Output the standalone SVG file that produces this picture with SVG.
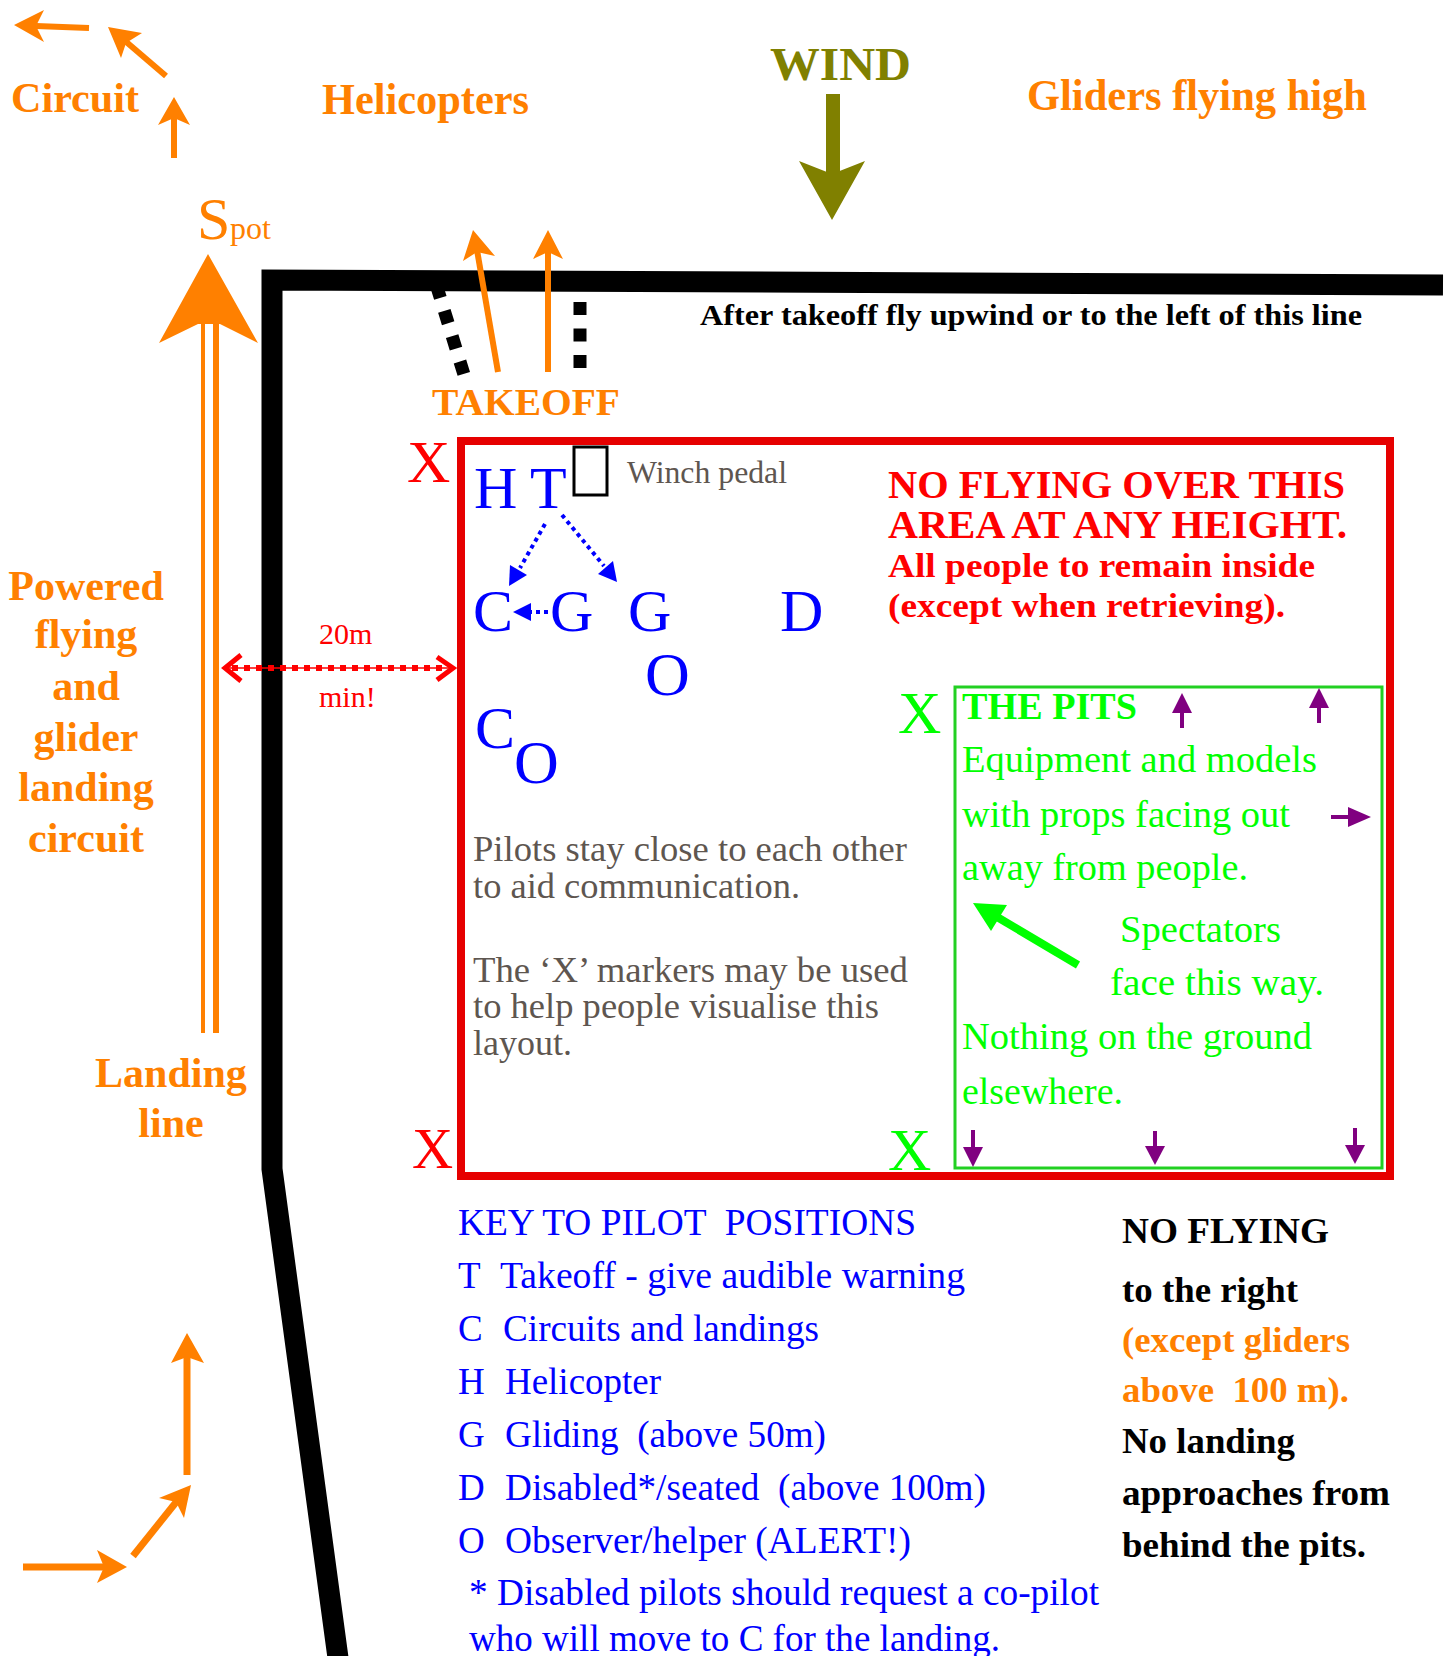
<svg xmlns="http://www.w3.org/2000/svg" width="1451" height="1656" viewBox="0 0 1451 1656">
<style>
text{font-family:"Liberation Serif","Times New Roman",serif;white-space:pre}
.b{font-weight:bold}
.or{fill:#ff8000}
.ol{fill:#808000}
.rd{fill:#ff0000}
.bl{fill:#0000ff}
.gy{fill:#5e5650}
.gr{fill:#00ff00}
.bk{fill:#000}
.pu{fill:#800080}
.osh{stroke:#ff8000;fill:none}
.psh{stroke:#800080;stroke-width:4;fill:none}
.bdot{stroke:#0000ff;stroke-width:4;stroke-dasharray:4 4;fill:none}
</style>
<rect width="1451" height="1656" fill="#fff"/>

<g id="frame">
<path d="M1443,285 L272,280 L272,1169 L341,1680" fill="none" stroke="#000" stroke-width="21" stroke-linejoin="miter"/>
<line x1="436.5" y1="285.5" x2="466" y2="381" stroke="#000" stroke-width="13" stroke-dasharray="13 13.5"/>
<line x1="580" y1="302" x2="580" y2="369" stroke="#000" stroke-width="13" stroke-dasharray="13 13.5"/>
</g>

<g id="field">
<rect x="461" y="441" width="929" height="735" fill="none" stroke="#e60000" stroke-width="8"/>
<rect x="955" y="687" width="427" height="481" fill="none" stroke="#22d022" stroke-width="3"/>
<rect x="574" y="447" width="33" height="48" fill="none" stroke="#000" stroke-width="3"/>
</g>

<g id="connectors">
<!-- circuit arrows top-left -->
<line x1="89" y1="28" x2="36" y2="26" class="osh" stroke-width="6"/>
<polygon points="14,25 44,10 36,26 44,42" class="or"/>
<line x1="166" y1="76" x2="124" y2="40" class="osh" stroke-width="6"/>
<polygon points="108,27 142,33 126,43 121,58" class="or"/>
<line x1="174" y1="158" x2="174" y2="116" class="osh" stroke-width="6"/>
<polygon points="174,97 190,125 174,118 158,125" class="or"/>
<!-- spot arrow -->
<line x1="203" y1="318" x2="203" y2="1033" class="osh" stroke-width="4"/>
<line x1="216" y1="318" x2="216" y2="1033" class="osh" stroke-width="6"/>
<polygon points="208,254 258,343 220,324 198,324 159,343" class="or"/>
<!-- helicopter arrows -->
<line x1="498" y1="372" x2="477" y2="250" class="osh" stroke-width="6"/>
<polygon points="473,230 495,256 477,252 463,261" class="or"/>
<line x1="548" y1="372" x2="548" y2="250" class="osh" stroke-width="6"/>
<polygon points="548,230 563,259 548,252 533,259" class="or"/>
<!-- wind -->
<rect x="826" y="94" width="14" height="82" class="ol"/>
<polygon points="799,161 832,174 865,161 832,220" class="ol"/>
<!-- bottom-left arrows -->
<line x1="23" y1="1567" x2="104" y2="1567" class="osh" stroke-width="7"/>
<polygon points="127,1567 97,1550 104,1567 97,1583" class="or"/>
<line x1="133" y1="1556" x2="177" y2="1501" class="osh" stroke-width="7"/>
<polygon points="191,1485 184,1518 176,1502 159,1498" class="or"/>
<line x1="187" y1="1475" x2="187" y2="1355" class="osh" stroke-width="7"/>
<polygon points="187,1333 204,1363 187,1357 171,1363" class="or"/>
<!-- 20m double arrow -->
<line x1="226" y1="668" x2="452" y2="668" stroke="#ff0000" stroke-width="1.5"/>
<line x1="232" y1="668" x2="446" y2="668" stroke="#ff0000" stroke-width="6" stroke-dasharray="6 6"/>
<polyline points="241,655 225,668 241,681" fill="none" stroke="#ff0000" stroke-width="5"/>
<polyline points="437,657 453,668 437,680" fill="none" stroke="#ff0000" stroke-width="5"/>
<!-- blue dotted arrows -->
<line x1="545" y1="524" x2="520" y2="568" class="bdot"/>
<polygon points="509,586 527,575 510,565" class="bl"/>
<line x1="562" y1="515" x2="604" y2="566" class="bdot"/>
<polygon points="617,582 613,561 598,574" class="bl"/>
<line x1="548" y1="612" x2="529" y2="612" class="bdot"/>
<polygon points="513,612 531,603 531,621" class="bl"/>
<!-- spectators arrow -->
<line x1="1078" y1="965" x2="992" y2="914" stroke="#00ff00" stroke-width="8"/>
<polygon points="973,903 1007,905 991,931" class="gr"/>
<!-- purple arrows -->
<line x1="1182" y1="728" x2="1182" y2="710" class="psh"/>
<polygon points="1182,693 1192,713 1172,713" class="pu"/>
<line x1="1319" y1="723" x2="1319" y2="705" class="psh"/>
<polygon points="1319,688 1329,708 1309,708" class="pu"/>
<line x1="1331" y1="817" x2="1350" y2="817" class="psh"/>
<polygon points="1371,817 1348,807 1348,827" class="pu"/>
<line x1="973" y1="1130" x2="973" y2="1150" class="psh"/>
<polygon points="973,1167 963,1147 983,1147" class="pu"/>
<line x1="1155" y1="1131" x2="1155" y2="1149" class="psh"/>
<polygon points="1155,1165 1145,1146 1165,1146" class="pu"/>
<line x1="1355" y1="1128" x2="1355" y2="1148" class="psh"/>
<polygon points="1355,1164 1345,1145 1365,1145" class="pu"/>
</g>

<g id="label-circuit"><text x="11" y="112" font-size="42" class="b or" textLength="128" lengthAdjust="spacingAndGlyphs">Circuit</text></g>
<g id="label-helicopters"><text x="322" y="114" font-size="44" class="b or" textLength="207" lengthAdjust="spacingAndGlyphs">Helicopters</text></g>
<g id="label-wind"><text x="770" y="80" font-size="46" class="b ol" textLength="141" lengthAdjust="spacingAndGlyphs">WIND</text></g>
<g id="label-gliders"><text x="1027" y="110" font-size="44" class="b or" textLength="340" lengthAdjust="spacingAndGlyphs">Gliders flying high</text></g>
<g id="label-spot"><text x="197" y="239" font-size="60" class="or">S</text><text x="230" y="239" font-size="32" class="or">pot</text></g>
<g id="label-after"><text x="700" y="325" font-size="30" class="b bk" textLength="662" lengthAdjust="spacingAndGlyphs">After takeoff fly upwind or to the left of this line</text></g>
<g id="label-takeoff"><text x="432" y="415" font-size="37" class="b or" textLength="188" lengthAdjust="spacingAndGlyphs">TAKEOFF</text></g>

<g id="label-powered" class="b or" font-size="42" text-anchor="middle">
<text x="86" y="600">Powered</text>
<text x="86" y="648">flying</text>
<text x="86" y="700">and</text>
<text x="86" y="751">glider</text>
<text x="86" y="801">landing</text>
<text x="86" y="852">circuit</text>
</g>
<g id="label-landing" class="b or" font-size="42" text-anchor="middle">
<text x="171" y="1087">Landing</text>
<text x="171" y="1137">line</text>
</g>

<g id="label-20m" class="rd" font-size="30">
<text x="319" y="644">20m</text>
<text x="319" y="707">min!</text>
</g>

<g id="markers" font-size="60">
<text x="407" y="482" class="rd">X</text>
<text x="412" y="1168" class="rd" font-size="57">X</text>
<text x="898" y="733" class="gr">X</text>
<text x="888" y="1170" class="gr">X</text>
</g>

<g id="pilots" class="bl" font-size="60">
<text x="474" y="508">H</text>
<text x="530" y="508">T</text>
<text x="473" y="631">C</text>
<text x="550" y="631">G</text>
<text x="628" y="631">G</text>
<text x="780" y="631">D</text>
<text x="645" y="695" font-size="62">O</text>
<text x="475" y="748">C</text>
<text x="514" y="783" font-size="62">O</text>
</g>

<g id="label-winch"><text x="627" y="483" font-size="32" class="gy" textLength="160" lengthAdjust="spacingAndGlyphs">Winch pedal</text></g>

<g id="label-noflying-area" class="b rd">
<text x="888" y="498" font-size="39" textLength="457" lengthAdjust="spacingAndGlyphs">NO FLYING OVER THIS</text>
<text x="888" y="538" font-size="39" textLength="459" lengthAdjust="spacingAndGlyphs">AREA AT ANY HEIGHT.</text>
<text x="888" y="577" font-size="34" textLength="427" lengthAdjust="spacingAndGlyphs">All people to remain inside</text>
<text x="888" y="617" font-size="34" textLength="397" lengthAdjust="spacingAndGlyphs">(except when retrieving).</text>
</g>

<g id="label-pilots-note" class="gy" font-size="36">
<text x="473" y="861" textLength="434" lengthAdjust="spacingAndGlyphs">Pilots stay close to each other</text>
<text x="473" y="898" textLength="327" lengthAdjust="spacingAndGlyphs">to aid communication.</text>
<text x="473" y="982" textLength="435" lengthAdjust="spacingAndGlyphs">The ‘X’ markers may be used</text>
<text x="473" y="1018" textLength="406" lengthAdjust="spacingAndGlyphs">to help people visualise this</text>
<text x="473" y="1055" textLength="99" lengthAdjust="spacingAndGlyphs">layout.</text>
</g>

<g id="pits" class="gr" font-size="37">
<text x="962" y="719" font-size="38" class="b" textLength="175" lengthAdjust="spacingAndGlyphs">THE PITS</text>
<text x="962" y="772" textLength="355" lengthAdjust="spacingAndGlyphs">Equipment and models</text>
<text x="962" y="827" textLength="328" lengthAdjust="spacingAndGlyphs">with props facing out</text>
<text x="962" y="880" textLength="286" lengthAdjust="spacingAndGlyphs">away from people.</text>
<text x="1120" y="942" textLength="161" lengthAdjust="spacingAndGlyphs">Spectators</text>
<text x="1110" y="995" textLength="214" lengthAdjust="spacingAndGlyphs">face this way.</text>
<text x="962" y="1049" textLength="350" lengthAdjust="spacingAndGlyphs">Nothing on the ground</text>
<text x="962" y="1104" textLength="161" lengthAdjust="spacingAndGlyphs">elsewhere.</text>
</g>

<g id="key" class="bl" font-size="37">
<text x="458" y="1235" textLength="458" lengthAdjust="spacingAndGlyphs">KEY TO PILOT  POSITIONS</text>
<text x="458" y="1288">T</text>
<text x="500" y="1288" textLength="465" lengthAdjust="spacingAndGlyphs">Takeoff - give audible warning</text>
<text x="458" y="1341">C</text>
<text x="503" y="1341" textLength="316" lengthAdjust="spacingAndGlyphs">Circuits and landings</text>
<text x="458" y="1394">H</text>
<text x="505" y="1394" textLength="156" lengthAdjust="spacingAndGlyphs">Helicopter</text>
<text x="458" y="1447">G</text>
<text x="505" y="1447" textLength="321" lengthAdjust="spacingAndGlyphs">Gliding  (above 50m)</text>
<text x="458" y="1500">D</text>
<text x="505" y="1500" textLength="481" lengthAdjust="spacingAndGlyphs">Disabled*/seated  (above 100m)</text>
<text x="458" y="1553">O</text>
<text x="505" y="1553" textLength="406" lengthAdjust="spacingAndGlyphs">Observer/helper (ALERT!)</text>
<text x="469" y="1605" textLength="630" lengthAdjust="spacingAndGlyphs">* Disabled pilots should request a co-pilot</text>
<text x="469" y="1651" textLength="531" lengthAdjust="spacingAndGlyphs">who will move to C for the landing.</text>
</g>

<g id="label-noflying-right" class="b" font-size="36">
<text x="1122" y="1243" class="bk" textLength="207" lengthAdjust="spacingAndGlyphs">NO FLYING</text>
<text x="1122" y="1302" class="bk" textLength="176" lengthAdjust="spacingAndGlyphs">to the right</text>
<text x="1122" y="1352" class="or" textLength="228" lengthAdjust="spacingAndGlyphs">(except gliders</text>
<text x="1122" y="1402" class="or" textLength="227" lengthAdjust="spacingAndGlyphs">above  100 m).</text>
<text x="1122" y="1453" class="bk" textLength="173" lengthAdjust="spacingAndGlyphs">No landing</text>
<text x="1122" y="1505" class="bk" textLength="268" lengthAdjust="spacingAndGlyphs">approaches from</text>
<text x="1122" y="1557" class="bk" textLength="244" lengthAdjust="spacingAndGlyphs">behind the pits.</text>
</g>
</svg>
